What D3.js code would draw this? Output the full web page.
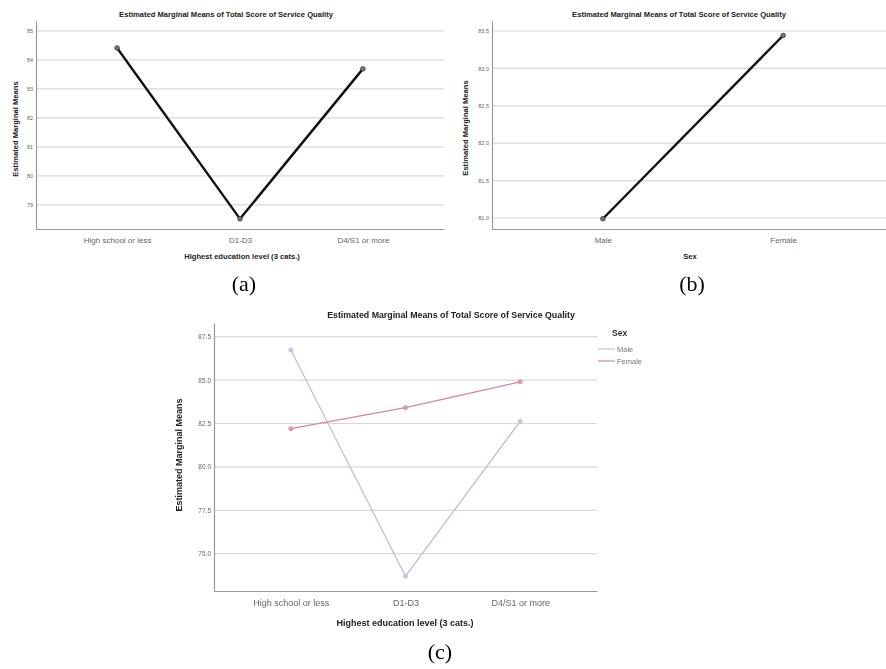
<!DOCTYPE html>
<html>
<head>
<meta charset="utf-8">
<script src="https://cdn.jsdelivr.net/npm/d3@7"></script>
<style>
  body { margin: 0; background: #fff; }
  svg { display: block; font-family: "Liberation Sans", Arial, sans-serif; }
</style>
</head>
<body>
<div id="plot"></div>
<script>
const TITLE = 'Estimated Marginal Means of Total Score of Service Quality';
const Y_TITLE = 'Estimated Marginal Means';

// (a) education main effect
const eduCats = ['High school or less', 'D1-D3', 'D4/S1 or more'];
const eduMeans = [84.41, 78.52, 83.69];
const eduTicks = [79, 80, 81, 82, 83, 84, 85];

// (b) sex main effect
const sexCats = ['Male', 'Female'];
const sexMeans = [80.99, 83.44];
const sexTicks = [81.0, 81.5, 82.0, 82.5, 83.0, 83.5];

// (c) interaction
const maleMeans = [86.73, 73.70, 82.63];
const femaleMeans = [82.20, 83.41, 84.90];
const intTicks = [75.0, 77.5, 80.0, 82.5, 85.0, 87.5];
const legendLabels = ['Male', 'Female'];

const svg = d3.select('#plot').append('svg')
  .attr('width', 886).attr('height', 669);

svg.append('defs').append('filter')
  .attr('id', 'soft')
  .append('feGaussianBlur').attr('stdDeviation', 0.6);

var drawPanel = function(g, opt) {
  var x = d3.scalePoint().domain(opt.cats).range(opt.xr).padding(opt.pad);
  var y = d3.scaleLinear().domain(opt.yd).range(opt.yr);
  var fs = opt.fs;

  // gridlines
  g.selectAll('line.grid').data(opt.ticks).enter().append('line')
    .attr('x1', opt.xr[0]).attr('x2', opt.xr[1])
    .attr('y1', function(d) { return y(d); }).attr('y2', function(d) { return y(d); })
    .attr('stroke', '#d9d9d9').attr('stroke-width', 1.2);

  var yAxis = d3.axisLeft(y).tickValues(opt.ticks).tickSize(0).tickPadding(3)
    .tickFormat(opt.fmt);
  var ya = g.append('g').attr('transform', 'translate(' + opt.xr[0] + ',0)').call(yAxis);
  ya.select('.domain').attr('stroke', '#999').attr('stroke-width', 1.2);
  ya.selectAll('text').attr('fill', '#666').style('font-size', fs.tick + 'px')
    .style('font-family', '"Liberation Sans", Arial, sans-serif');

  var xAxis = d3.axisBottom(x).tickSize(0).tickPadding(fs.catPad);
  var xa = g.append('g').attr('transform', 'translate(0,' + opt.yr[0] + ')').call(xAxis);
  xa.select('.domain').attr('stroke', '#999').attr('stroke-width', 1.2);
  xa.selectAll('text').attr('fill', '#666').style('font-size', fs.cat + 'px')
    .style('font-family', '"Liberation Sans", Arial, sans-serif');

  // titles
  g.append('text').attr('x', opt.titleX).attr('y', opt.titleY)
    .attr('text-anchor', 'middle').attr('font-weight', 'bold')
    .attr('font-size', fs.title).attr('fill', '#222').text(TITLE);
  g.append('text').attr('x', opt.xTitleX).attr('y', opt.xTitleY)
    .attr('text-anchor', 'middle').attr('font-weight', 'bold')
    .attr('font-size', fs.axis).attr('fill', '#222').text(opt.xTitle);
  g.append('text')
    .attr('transform', 'translate(' + opt.yTitleX + ',' + opt.yTitleY + ') rotate(-90)')
    .attr('text-anchor', 'middle').attr('font-weight', 'bold')
    .attr('font-size', fs.axis).attr('fill', '#222').text(Y_TITLE);

  // series
  var line = d3.line()
    .x(function(d, i) { return x(opt.cats[i]); })
    .y(function(d) { return y(d); });
  opt.series.forEach(function(s) {
    g.append('path').datum(s.values)
      .attr('d', line).attr('fill', 'none')
      .attr('stroke', s.color).attr('stroke-width', s.width);
    g.selectAll(null).data(s.values).enter().append('circle')
      .attr('cx', function(d, i) { return x(opt.cats[i]); })
      .attr('cy', function(d) { return y(d); })
      .attr('r', s.r)
      .attr('fill', s.dot).attr('stroke', s.dotStroke).attr('stroke-width', 0.8);
  });
};

/* (a) */
drawPanel(svg.append('g'), {
  cats: eduCats, xr: [36, 444], pad: 0.66,
  yd: [78.17, 85.34], yr: [229, 21], ticks: eduTicks, fmt: d3.format('d'),
  fs: { tick: 5.5, cat: 8, catPad: 8, title: 7.6, axis: 7.6 },
  titleX: 226, titleY: 17, xTitle: 'Highest education level (3 cats.)',
  xTitleX: 242, xTitleY: 259, yTitleX: 18, yTitleY: 129,
  series: [{ values: eduMeans, color: '#111', width: 2.4, r: 2.3, dot: '#777', dotStroke: '#333' }]
});

/* (b) */
drawPanel(svg.append('g'), {
  cats: sexCats, xr: [492, 894], pad: 0.615,
  yd: [80.853, 83.634], yr: [229, 21], ticks: sexTicks, fmt: d3.format('.1f'),
  fs: { tick: 5.5, cat: 8, catPad: 8, title: 7.6, axis: 7.6 },
  titleX: 679, titleY: 17, xTitle: 'Sex',
  xTitleX: 690, xTitleY: 259, yTitleX: 468, yTitleY: 128,
  series: [{ values: sexMeans, color: '#111', width: 2.4, r: 2.3, dot: '#777', dotStroke: '#333' }]
});

/* (c) */
var gc = svg.append('g').attr('filter', 'url(#soft)');
drawPanel(gc, {
  cats: eduCats, xr: [214, 597], pad: 0.67,
  yd: [72.85, 88.29], yr: [591, 323], ticks: intTicks, fmt: d3.format('.1f'),
  fs: { tick: 6.5, cat: 9, catPad: 9, title: 8.8, axis: 9 },
  titleX: 451, titleY: 318, xTitle: 'Highest education level (3 cats.)',
  xTitleX: 405, xTitleY: 626, yTitleX: 182, yTitleY: 455,
  series: [
    { values: maleMeans, color: '#b9c3da', width: 1.3, r: 2, dot: '#c7cfe2', dotStroke: '#b0bad2' },
    { values: femaleMeans, color: '#d9849a', width: 1.3, r: 2, dot: '#e3a0b0', dotStroke: '#d47890' }
  ]
});

// legend (c)
var legColors = ['#b9c3da', '#d9849a'];
gc.append('text').attr('x', 612).attr('y', 336).attr('font-weight', 'bold')
  .attr('font-size', 8.5).attr('fill', '#333').text('Sex');
var leg = gc.selectAll('g.leg').data(legendLabels).enter().append('g')
  .attr('transform', function(d, i) { return 'translate(598,' + (349 + i * 12) + ')'; });
leg.append('line').attr('x1', 0).attr('x2', 17).attr('y1', 0).attr('y2', 0)
  .attr('stroke', function(d, i) { return legColors[i]; }).attr('stroke-width', 1.2);
leg.append('text').attr('x', 19).attr('y', 3).attr('font-size', 7.5)
  .attr('fill', '#777').text(function(d) { return d; });

// sub-figure labels
var subLabels = [['(a)', 244, 291], ['(b)', 692, 291], ['(c)', 440, 659]];
svg.selectAll('text.sub').data(subLabels).enter().append('text')
  .attr('class', 'sub')
  .attr('x', function(d) { return d[1]; }).attr('y', function(d) { return d[2]; })
  .attr('text-anchor', 'middle')
  .style('font-family', '"Liberation Serif", "Times New Roman", serif')
  .attr('font-size', 22).attr('fill', '#000')
  .text(function(d) { return d[0]; });
</script>
</body>
</html>
